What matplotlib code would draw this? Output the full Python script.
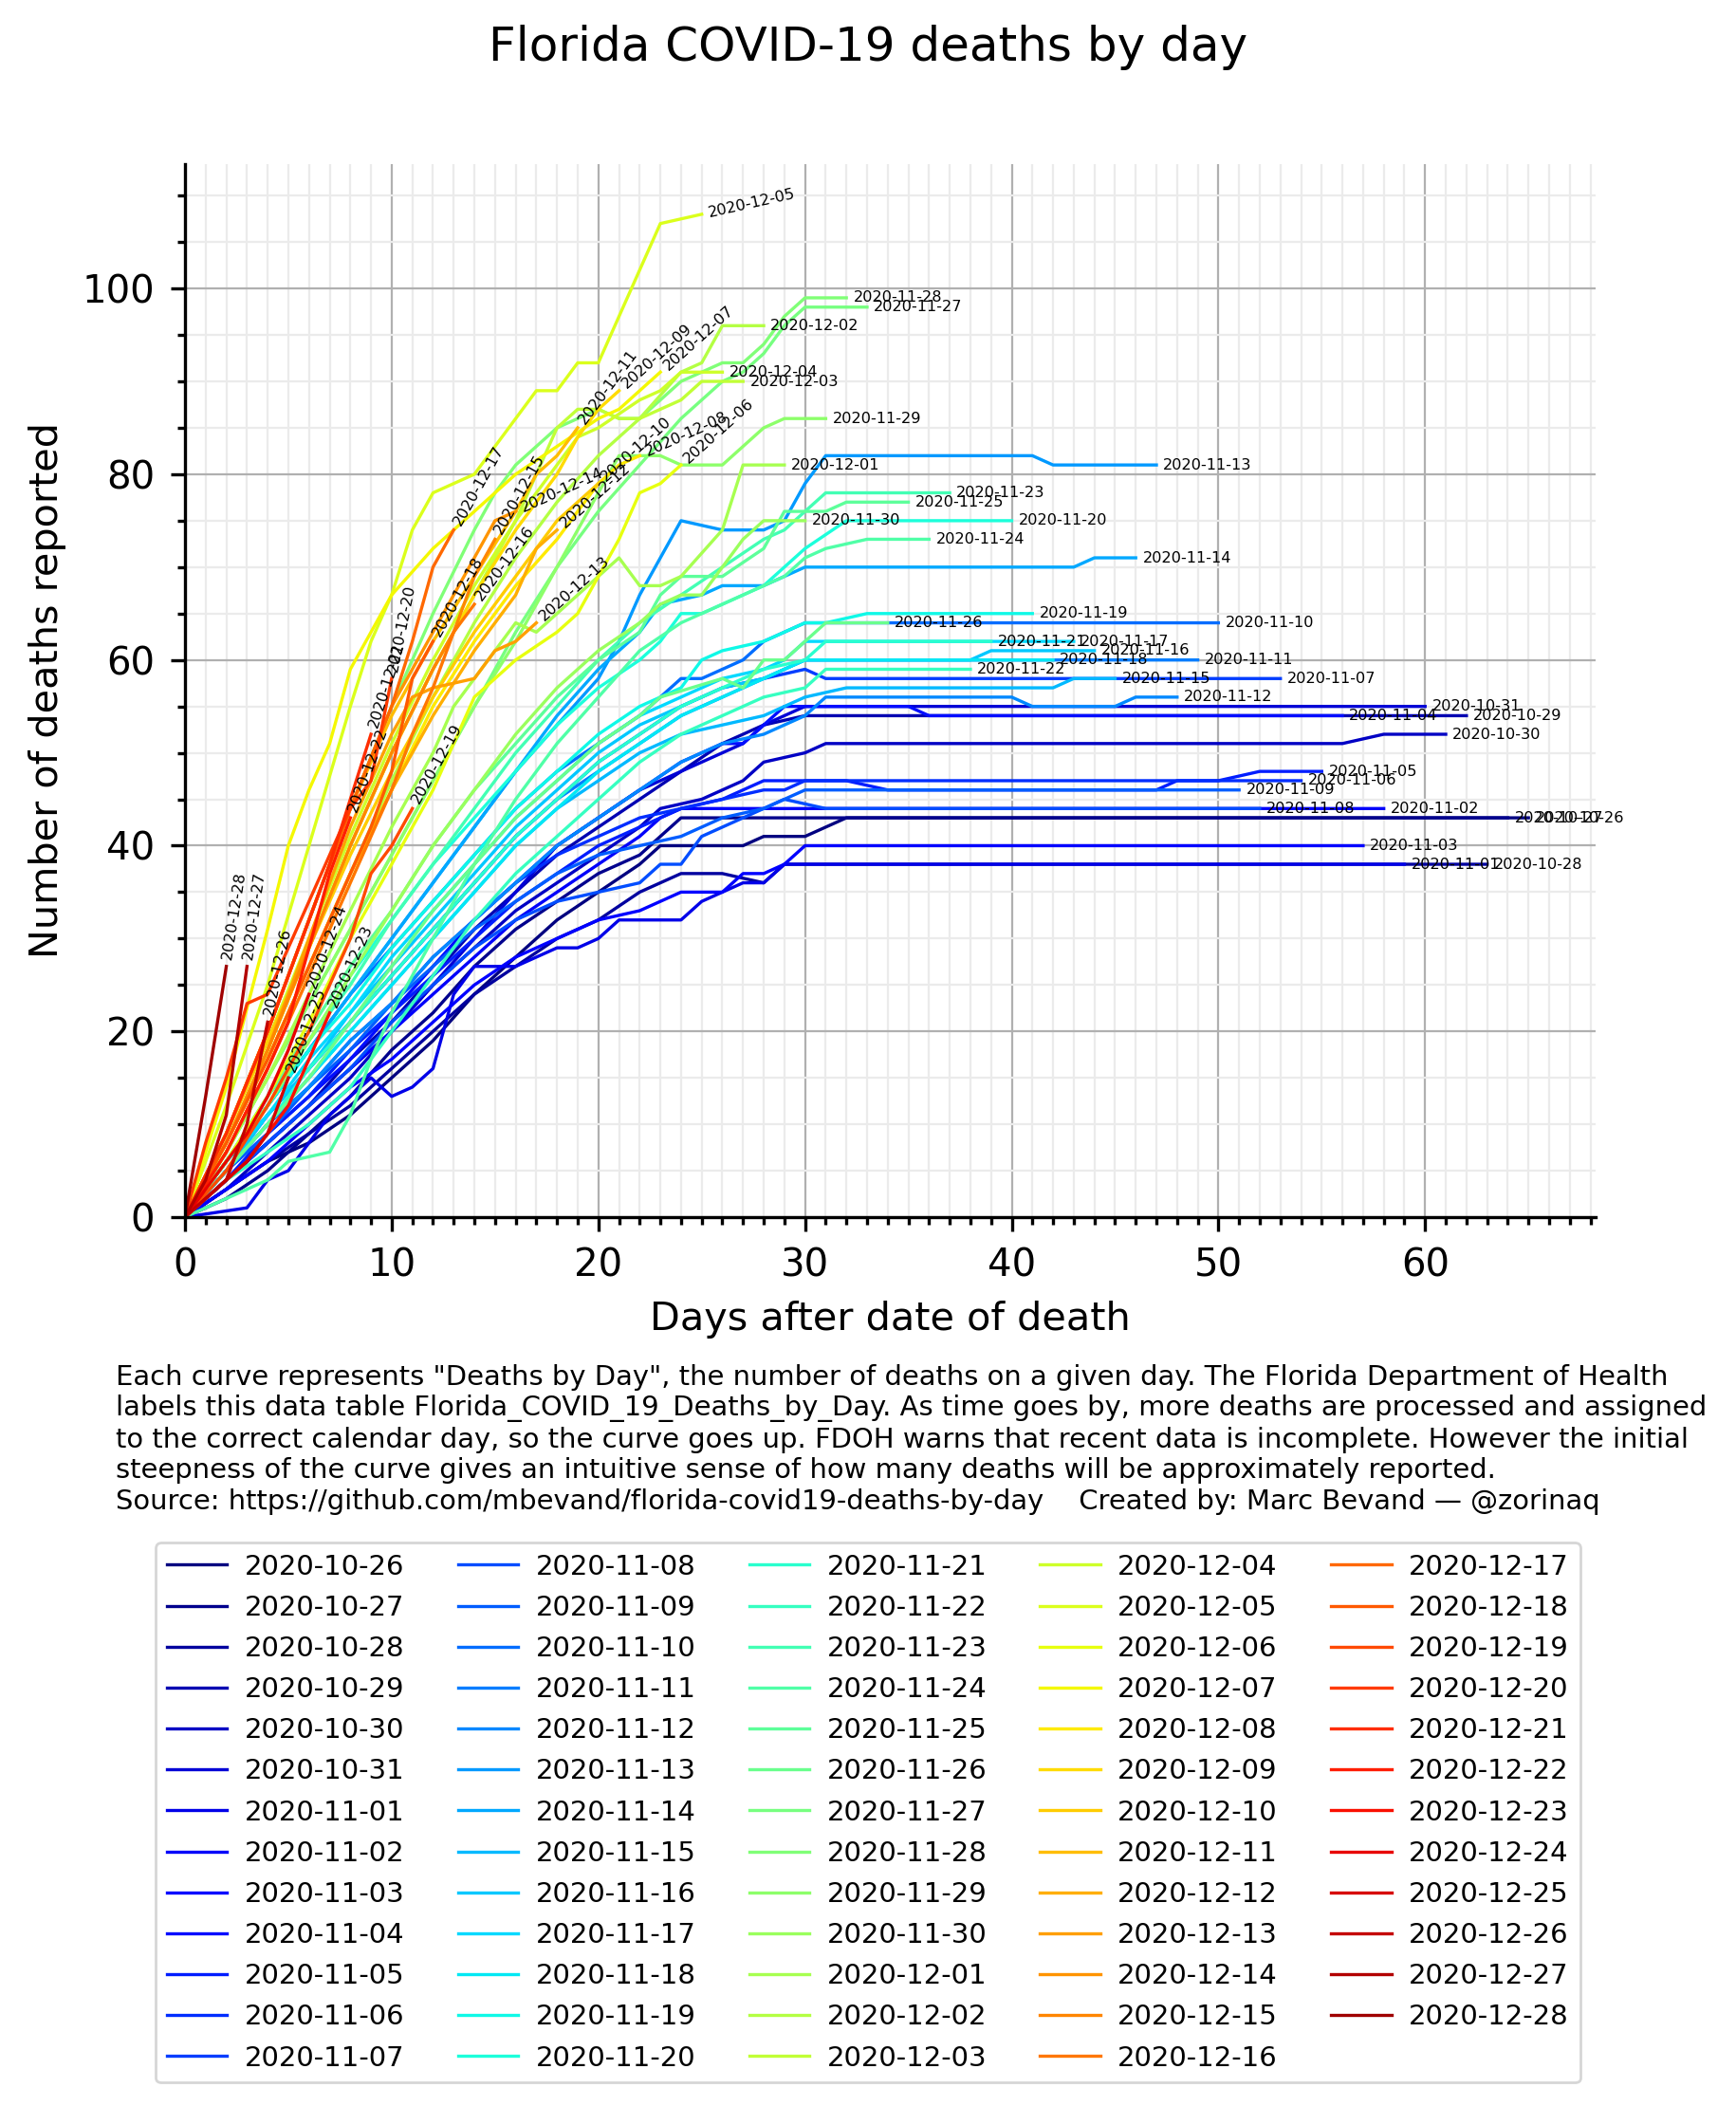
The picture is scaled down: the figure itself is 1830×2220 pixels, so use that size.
import math
import matplotlib
matplotlib.use("Agg")
import matplotlib.pyplot as plt
from matplotlib.ticker import MultipleLocator

dates = [
    "2020-10-26", "2020-10-27", "2020-10-28", "2020-10-29", "2020-10-30", "2020-10-31",
    "2020-11-01", "2020-11-02", "2020-11-03", "2020-11-04", "2020-11-05", "2020-11-06",
    "2020-11-07", "2020-11-08", "2020-11-09", "2020-11-10", "2020-11-11", "2020-11-12",
    "2020-11-13", "2020-11-14", "2020-11-15", "2020-11-16", "2020-11-17", "2020-11-18",
    "2020-11-19", "2020-11-20", "2020-11-21", "2020-11-22", "2020-11-23", "2020-11-24",
    "2020-11-25", "2020-11-26", "2020-11-27", "2020-11-28", "2020-11-29", "2020-11-30",
    "2020-12-01", "2020-12-02", "2020-12-03", "2020-12-04", "2020-12-05", "2020-12-06",
    "2020-12-07", "2020-12-08", "2020-12-09", "2020-12-10", "2020-12-11", "2020-12-12",
    "2020-12-13", "2020-12-14", "2020-12-15", "2020-12-16", "2020-12-17", "2020-12-18",
    "2020-12-19", "2020-12-20", "2020-12-21", "2020-12-22", "2020-12-23", "2020-12-24",
    "2020-12-25", "2020-12-26", "2020-12-27", "2020-12-28",
]

# (day, deaths) vertices of each curve
k1026 = [(0,0),(2,3),(4,6),(6,8),(8,11),(10,15),(12,19),(14,24),(16,28),(18,32),(20,35),(22,38),(23,40),(27,40),(28,41),(30,41),(32,43),(65,43)]
k1027 = [(0,0),(2,2),(4,5),(6,9),(8,13),(10,18),(12,22),(14,27),(16,31),(18,34),(20,37),(22,39),(23,41),(24,43),(64,43)]
k1028 = [(0,0),(2,3),(4,6),(6,9),(8,12),(10,16),(12,20),(14,24),(16,27),(18,30),(20,32),(22,35),(23,36),(24,37),(26,37),(28,36),(29,38),(63,38)]
k1029 = [(0,0),(2,4),(4,8),(6,12),(8,17),(10,21),(12,26),(14,31),(16,35),(18,39),(20,42),(22,45),(24,48),(26,51),(28,53),(30,54),(62,54)]
k1030 = [(0,0),(2,3),(4,7),(6,11),(8,15),(10,20),(12,25),(14,29),(16,33),(18,36),(20,39),(22,42),(23,44),(25,45),(27,47),(28,49),(30,50),(31,51),(56,51),(58,52),(61,52)]
k1031 = [(0,0),(2,4),(4,8),(6,12),(8,16),(10,20),(12,25),(14,30),(16,35),(18,40),(20,43),(22,46),(24,48),(26,50),(27,51),(28,53),(29,54),(30,55),(60,55)]
k1101 = [(0,0),(3,1),(4,4),(5,5),(6,8),(7,11),(8,13),(9,15),(10,13),(11,14),(12,16),(13,24),(14,27),(16,27),(17,28),(18,29),(19,29),(20,30),(21,32),(24,32),(25,34),(26,35),(27,36),(28,36),(29,38),(59,38)]
k1102 = [(0,0),(2,4),(4,8),(6,12),(8,16),(10,20),(12,24),(14,28),(16,32),(18,35),(20,38),(22,41),(23,43),(24,44),(58,44)]
k1103 = [(0,0),(2,3),(4,6),(6,10),(8,14),(10,17),(12,21),(14,25),(16,28),(18,30),(20,32),(22,33),(23,34),(24,35),(26,35),(27,37),(28,37),(29,38),(30,40),(57,40)]
k1104 = [(0,0),(2,5),(4,9),(6,13),(8,17),(10,22),(12,27),(14,32),(16,36),(18,40),(20,43),(22,46),(24,49),(26,51),(27,51),(28,53),(29,55),(35,55),(36,54),(56,54)]
k1105 = [(0,0),(2,4),(4,9),(6,13),(8,18),(10,22),(12,26),(14,30),(16,34),(18,37),(20,40),(22,42),(24,44),(26,45),(27,46),(28,47),(32,47),(34,46),(47,46),(48,47),(50,47),(52,48),(55,48)]
k1106 = [(0,0),(2,5),(4,10),(6,14),(8,19),(10,23),(12,28),(14,32),(16,36),(18,39),(20,41),(22,43),(24,44),(26,45),(28,46),(29,46),(30,47),(54,47)]
k1107 = [(0,0),(2,6),(4,11),(6,16),(8,21),(10,26),(12,31),(14,36),(16,41),(18,45),(20,49),(22,52),(24,55),(26,57),(28,58),(30,59),(31,58),(53,58)]
k1108 = [(0,0),(2,4),(4,8),(6,12),(8,16),(10,21),(12,25),(14,29),(16,32),(18,34),(20,35),(22,36),(23,38),(24,38),(25,41),(26,42),(27,43),(28,44),(29,45),(31,44),(52,44)]
k1109 = [(0,0),(2,5),(4,9),(6,14),(8,18),(10,23),(12,27),(14,31),(16,34),(18,37),(20,39),(22,40),(24,41),(26,43),(28,44),(29,45),(30,46),(51,46)]
k1110 = [(0,0),(2,6),(4,12),(6,18),(8,24),(10,29),(12,34),(14,39),(16,44),(18,48),(20,51),(22,54),(24,58),(25,58),(26,59),(27,60),(28,62),(29,63),(30,64),(50,64)]
k1111 = [(0,0),(2,5),(4,11),(6,16),(8,21),(10,26),(12,31),(14,36),(16,41),(18,45),(20,48),(22,51),(24,54),(26,56),(28,58),(30,60),(49,60)]
k1112 = [(0,0),(2,5),(4,10),(6,14),(8,19),(10,23),(12,28),(14,32),(16,36),(18,40),(20,43),(22,46),(24,49),(26,51),(28,52),(29,53),(30,54),(31,56),(40,56),(41,55),(45,55),(46,56),(48,56)]
k1113 = [(0,0),(2,6),(4,12),(6,18),(8,24),(10,30),(12,36),(14,42),(16,48),(18,53),(20,58),(21,62),(22,67),(23,71),(24,75),(26,74),(27,74),(28,74),(29,75),(30,79),(31,82),(41,82),(42,81),(47,81)]
k1114 = [(0,0),(2,6),(4,12),(6,18),(8,24),(10,30),(12,36),(14,42),(16,48),(18,54),(20,59),(22,63),(23,66),(25,67),(26,68),(28,68),(29,69),(30,70),(43,70),(44,71),(46,71)]
k1115 = [(0,0),(2,5),(4,10),(6,15),(8,20),(10,25),(12,30),(14,35),(16,40),(18,44),(20,47),(22,50),(24,52),(26,53),(28,54),(30,56),(32,57),(42,57),(43,58),(45,58)]
k1116 = [(0,0),(2,5),(4,11),(6,16),(8,22),(10,27),(12,32),(14,37),(16,42),(18,46),(20,50),(22,53),(24,55),(26,57),(28,58),(30,60),(38,60),(39,61),(44,61)]
k1117 = [(0,0),(2,6),(4,11),(6,17),(8,22),(10,28),(12,33),(14,38),(16,43),(18,47),(20,51),(22,54),(24,56),(26,58),(28,59),(29,60),(30,62),(43,62)]
k1118 = [(0,0),(2,5),(4,10),(6,15),(8,20),(10,25),(12,30),(14,35),(16,40),(18,44),(20,48),(22,51),(24,54),(26,56),(28,58),(30,60),(42,60)]
k1119 = [(0,0),(2,6),(4,12),(6,18),(8,23),(10,29),(12,34),(14,39),(16,44),(18,48),(20,52),(22,55),(24,57),(25,60),(26,61),(28,62),(29,63),(30,64),(31,64),(33,65),(41,65)]
k1120 = [(0,0),(2,6),(4,13),(6,19),(8,26),(10,32),(12,38),(14,43),(16,48),(18,53),(20,57),(22,60),(23,62),(24,65),(25,65),(27,67),(28,68),(29,70),(30,72),(32,75),(40,75)]
k1121 = [(0,0),(2,5),(4,10),(6,16),(8,21),(10,26),(12,31),(14,36),(16,41),(18,45),(20,49),(22,52),(24,55),(26,57),(28,59),(30,60),(31,62),(39,62)]
k1122 = [(0,0),(2,4),(4,7),(6,10),(8,14),(10,20),(12,26),(14,32),(16,37),(18,41),(20,45),(22,49),(24,52),(26,54),(28,56),(30,57),(31,59),(38,59)]
k1123 = [(0,0),(2,6),(4,12),(6,19),(8,25),(10,32),(12,38),(14,44),(16,50),(18,55),(20,60),(22,64),(24,67),(26,70),(28,73),(29,74),(30,76),(31,78),(37,78)]
k1124 = [(0,0),(2,2),(4,4),(5,6),(7,7),(8,11),(9,17),(10,22),(12,30),(14,38),(16,45),(18,51),(20,56),(22,61),(24,64),(26,66),(28,68),(29,69),(30,71),(31,72),(33,73),(36,73)]
k1125 = [(0,0),(2,6),(4,13),(6,20),(8,27),(10,33),(12,40),(14,46),(16,51),(18,56),(20,60),(22,63),(23,67),(24,69),(26,69),(28,72),(29,76),(31,76),(32,77),(35,77)]
k1126 = [(0,0),(2,5),(4,10),(6,15),(8,21),(10,27),(12,33),(14,38),(16,43),(18,47),(20,51),(22,54),(23,56),(26,58),(27,57),(28,60),(29,60),(30,62),(31,64),(34,64)]
k1127 = [(0,0),(2,7),(4,15),(6,23),(8,31),(10,39),(12,47),(14,55),(16,63),(18,70),(20,76),(22,81),(24,86),(26,90),(27,91),(28,93),(29,96),(30,98),(33,98)]
k1128 = [(0,0),(2,9),(4,20),(6,32),(8,44),(10,55),(12,65),(14,74),(15,78),(16,81),(17,83),(18,85),(19,86),(20,87),(21,86),(22,86),(23,88),(24,90),(25,91),(26,92),(27,92),(28,94),(29,97),(30,99),(32,99)]
k1129 = [(0,0),(2,7),(4,15),(6,23),(8,31),(10,39),(12,47),(14,55),(16,62),(18,70),(20,78),(21,82),(23,82),(24,81),(26,81),(28,85),(29,86),(31,86)]
k1130 = [(0,0),(2,6),(4,12),(6,19),(8,26),(10,33),(12,40),(14,46),(16,52),(18,57),(20,61),(22,64),(23,66),(24,67),(25,67),(26,70),(27,73),(28,75),(30,75)]
k1201 = [(0,0),(2,7),(4,15),(6,24),(8,33),(10,42),(12,50),(13,55),(14,58),(15,61),(16,64),(17,63),(19,67),(21,71),(22,68),(23,68),(24,69),(26,74),(27,81),(29,81)]
k1202 = [(0,0),(2,8),(4,17),(6,27),(8,37),(10,47),(12,56),(14,64),(16,71),(18,77),(20,82),(22,86),(24,91),(25,92),(26,96),(28,96)]
k1203 = [(0,0),(2,8),(4,18),(6,29),(8,40),(10,50),(12,59),(14,67),(16,75),(17,80),(18,85),(19,87),(20,87),(21,86),(22,86),(23,87),(24,88),(25,90),(27,90)]
k1204 = [(0,0),(2,9),(4,19),(6,30),(8,41),(10,51),(12,60),(14,68),(16,75),(18,81),(19,84),(20,85),(22,88),(23,89),(24,91),(26,91)]
k1205 = [(0,0),(2,12),(4,25),(6,40),(8,55),(9,62),(10,67),(11,74),(12,78),(14,80),(15,83),(17,89),(18,89),(19,92),(20,92),(23,107),(25,108)]
k1206 = [(0,0),(2,6),(4,13),(6,21),(8,30),(10,38),(12,46),(14,56),(16,60),(18,63),(19,65),(21,73),(22,78),(23,79),(24,81)]
k1207 = [(0,0),(2,14),(4,31),(5,40),(6,46),(7,51),(8,59),(9,63),(10,67),(12,72),(14,76),(16,80),(18,83),(20,86),(21,87),(22,89),(23,91)]
k1208 = [(0,0),(2,8),(4,17),(6,27),(8,37),(10,46),(12,55),(14,62),(16,68),(18,73),(19,76),(20,79),(21,81),(22,82)]
k1209 = [(0,0),(2,8),(4,18),(6,29),(8,40),(10,50),(12,59),(14,67),(16,74),(18,80),(19,84),(20,87),(21,89)]
k1210 = [(0,0),(2,9),(4,19),(6,29),(8,39),(10,48),(12,56),(14,63),(16,69),(17,72),(18,75),(19,77),(20,79)]
k1211 = [(0,0),(2,9),(4,20),(6,32),(8,44),(10,54),(12,62),(14,69),(16,76),(17,80),(18,82),(19,85)]
k1212 = [(0,0),(2,8),(4,17),(6,27),(8,37),(10,46),(12,54),(14,61),(16,67),(17,72),(18,74)]
k1213 = [(0,0),(2,8),(4,18),(6,30),(8,42),(10,52),(11,56),(12,57),(14,58),(15,61),(16,62),(17,64)]
k1214 = [(0,0),(2,9),(4,20),(6,32),(8,44),(10,55),(12,63),(13,67),(14,71),(15,75),(16,76)]
k1215 = [(0,0),(2,8),(4,18),(6,29),(8,40),(10,50),(12,59),(13,63),(14,69),(15,73)]
k1216 = [(0,0),(2,7),(4,16),(6,26),(8,36),(10,46),(11,52),(12,57),(13,63),(14,66)]
k1217 = [(0,0),(2,9),(4,20),(6,32),(8,44),(10,55),(11,62),(12,70),(13,74)]
k1218 = [(0,0),(2,8),(4,17),(6,27),(8,37),(9,42),(10,48),(11,58),(12,62)]
k1219 = [(0,0),(2,5),(4,12),(6,20),(7,25),(8,30),(9,37),(10,40),(11,44)]
k1220 = [(0,0),(1,8),(2,15),(3,23),(4,24),(6,34),(8,44),(9,47),(10,58)]
k1221 = [(0,0),(2,9),(4,20),(5,26),(6,32),(7,38),(8,45),(9,52)]
k1222 = [(0,0),(2,7),(4,16),(5,21),(6,29),(7,37),(8,43)]
k1223 = [(0,0),(1,2),(2,4),(3,6),(4,9),(5,12),(6,17),(7,22)]
k1224 = [(0,0),(1,3),(2,6),(3,9),(4,13),(5,18),(6,24)]
k1225 = [(0,0),(1,2),(2,4),(3,6),(4,9),(5,15)]
k1226 = [(0,0),(1,2),(2,4),(3,10),(4,21)]
k1227 = [(0,0),(1,4),(2,11),(3,27)]
k1228 = [(0,0),(1,13),(2,27)]

curves = [
    k1026, k1027, k1028, k1029, k1030, k1031, k1101, k1102, k1103, k1104, k1105, k1106,
    k1107, k1108, k1109, k1110, k1111, k1112, k1113, k1114, k1115, k1116, k1117, k1118,
    k1119, k1120, k1121, k1122, k1123, k1124, k1125, k1126, k1127, k1128, k1129, k1130,
    k1201, k1202, k1203, k1204, k1205, k1206, k1207, k1208, k1209, k1210, k1211, k1212,
    k1213, k1214, k1215, k1216, k1217, k1218, k1219, k1220, k1221, k1222, k1223, k1224,
    k1225, k1226, k1227, k1228,
]

title = "Florida COVID-19 deaths by day"
xlabel = "Days after date of death"
ylabel = "Number of deaths reported"
note = ('Each curve represents "Deaths by Day", the number of deaths on a given day. The Florida Department of Health\n'
        'labels this data table Florida_COVID_19_Deaths_by_Day. As time goes by, more deaths are processed and assigned\n'
        'to the correct calendar day, so the curve goes up. FDOH warns that recent data is incomplete. However the initial\n'
        'steepness of the curve gives an intuitive sense of how many deaths will be approximately reported.\n'
        'Source: https://github.com/mbevand/florida-covid19-deaths-by-day    Created by: Marc Bevand \u2014 @zorinaq')

W, H = 1831, 2220
fig = plt.figure(figsize=(W / 200, H / 200), dpi=200)
ax = fig.add_axes([195 / W, 1 - 1283 / H, (1682 - 195) / W, (1283 - 173) / H])

cmap = plt.get_cmap("jet")
n = len(dates)
lines = []
for i, (d, k) in enumerate(zip(dates, curves)):
    xs = [p[0] for p in k]
    ys = [p[1] for p in k]
    ln, = ax.plot(xs, ys, color=cmap(i / (n + 1)), lw=1.2, label=d, zorder=2)
    lines.append(ln)

ax.set_xlim(0, 68.25)
ax.set_ylim(0, 113.4)
ax.xaxis.set_major_locator(MultipleLocator(10))
ax.xaxis.set_minor_locator(MultipleLocator(1))
ax.yaxis.set_major_locator(MultipleLocator(20))
ax.yaxis.set_minor_locator(MultipleLocator(5))
ax.grid(which="major", color="#b0b0b0", lw=0.8, zorder=0)
ax.grid(which="minor", color="#ebebeb", lw=0.8, zorder=0)
ax.set_axisbelow(True)
for s in ("top", "right"):
    ax.spines[s].set_visible(False)
for s in ("left", "bottom"):
    ax.spines[s].set_linewidth(1.2)
ax.tick_params(which="major", length=5.4, width=1.2, labelsize=14.5, pad=6)
ax.tick_params(which="minor", length=2.9, width=1.2)
ax.set_xlabel(xlabel, fontsize=14.9, labelpad=6)
ax.set_ylabel(ylabel, fontsize=14.9, labelpad=6)

# end-of-curve labels, rotated along the last segment
for d, k in zip(dates, curves):
    (x0, y0), (x1, y1) = k[-2], k[-1]
    p0 = ax.transData.transform((x0, y0))
    p1 = ax.transData.transform((x1, y1))
    ang = math.degrees(math.atan2(p1[1] - p0[1], p1[0] - p0[0]))
    off = 2.6
    ax.annotate(d, xy=(x1, y1), xytext=(off * math.cos(math.radians(ang)), off * math.sin(math.radians(ang))),
                textcoords="offset points", rotation=ang, rotation_mode="anchor",
                ha="left", va="center", fontsize=5.8, zorder=5)

fig.text(0.5, 1 - 50 / H, title, ha="center", va="center", fontsize=18)
fig.text(122 / W, 1 - 1438 / H, note, ha="left", va="top", fontsize=10.45, linespacing=1.2)

fig.legend(lines, dates, ncol=5, loc="upper center", bbox_to_anchor=(915 / W, 1 - 1626 / H),
           borderaxespad=0, fontsize=10.5, handlelength=2.18, handletextpad=0.63,
           columnspacing=1.92, labelspacing=0.52, frameon=True)

fig.savefig("out.png", dpi=200)
